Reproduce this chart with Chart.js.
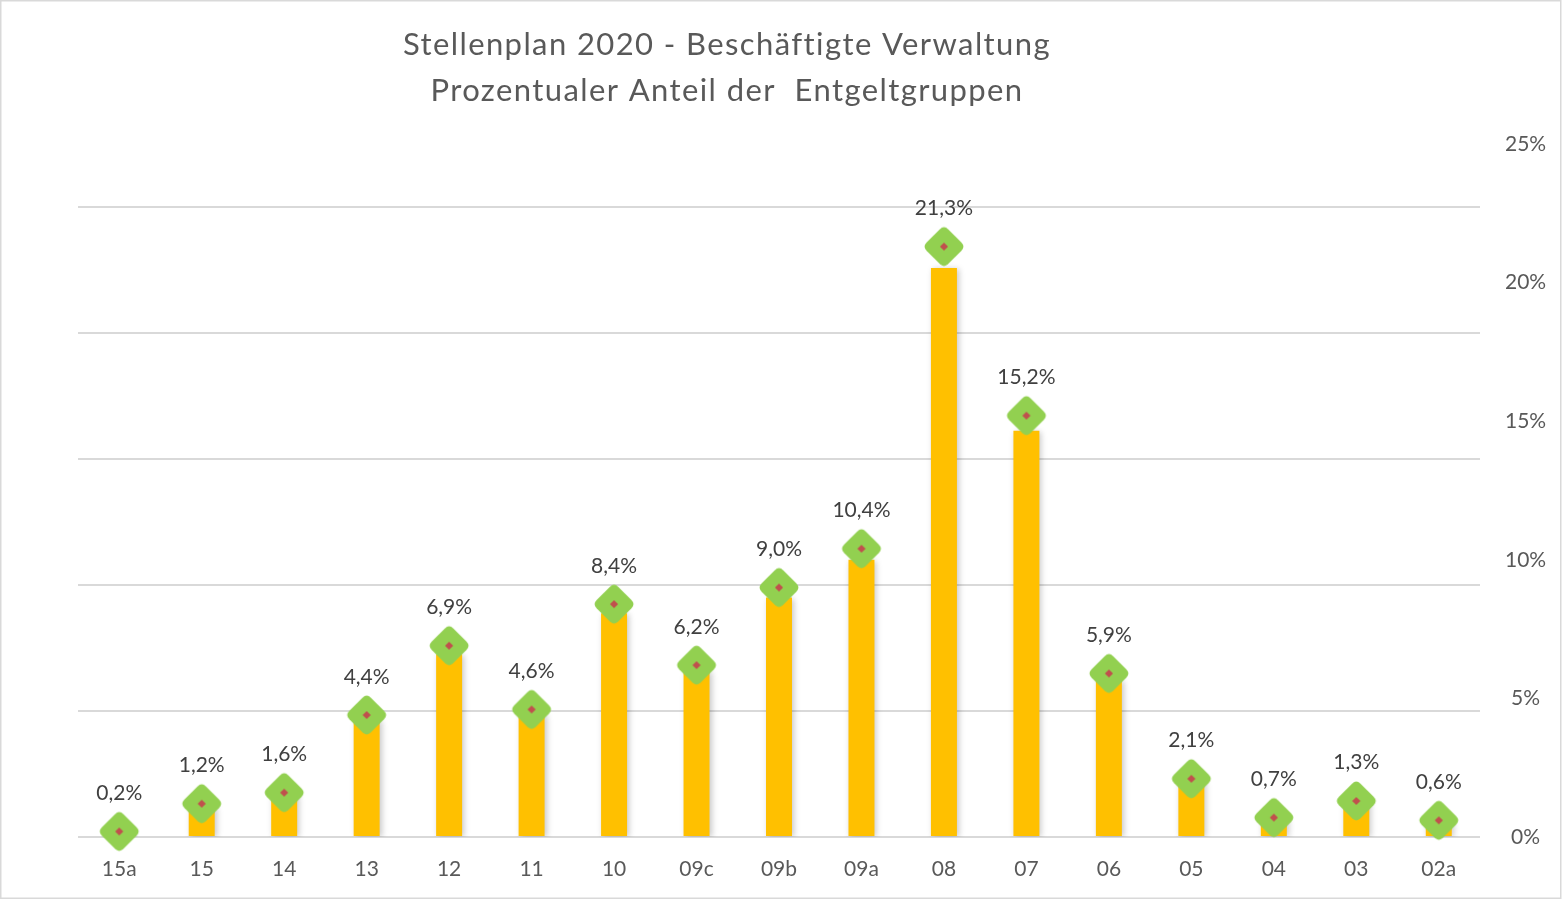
<!DOCTYPE html>
<html>
<head>
<meta charset="utf-8">
<script src="https://cdn.jsdelivr.net/npm/chart.js@4.4.1/dist/chart.umd.min.js"></script>
<style>
html,body{margin:0;padding:0;background:#ffffff;}
#wrap{width:1562px;height:902px;position:relative;}
canvas{display:block;}
</style>
</head>
<body>
<div id="wrap"><canvas id="c" width="1562" height="902"></canvas></div>
<script>
// ---- data ----
const categories = ['15a','15','14','13','12','11','10','09c','09b','09a','08','07','06','05','04','03','02a'];
// number of positions per pay group (hidden left axis)
const positions = [1, 5, 6.8, 18.5, 29, 19.5, 35.5, 26.3, 38, 44, 90.3, 64.5, 25, 9, 3, 5.5, 2.5];
// share in percent (right axis, markers and labels)
const shares = [0.2, 1.2, 1.6, 4.4, 6.9, 4.6, 8.4, 6.2, 9.0, 10.4, 21.3, 15.2, 5.9, 2.1, 0.7, 1.3, 0.6];
const shareTicks = [0, 5, 10, 15, 20, 25];
const titleLines = ['Stellenplan 2020 - Beschäftigte Verwaltung', 'Prozentualer Anteil der  Entgeltgruppen'];

const FONT = 'Lato';
const GREY = '#595959';

function makeMarker(){
  const c = document.createElement('canvas');
  c.width = 46; c.height = 46;
  const x = c.getContext('2d');
  x.translate(23, 23);
  x.rotate(Math.PI / 4);
  const s = 30.5, r = 6, h = s / 2;
  x.beginPath();
  x.moveTo(-h + r, -h);
  x.lineTo(h - r, -h); x.quadraticCurveTo(h, -h, h, -h + r);
  x.lineTo(h, h - r); x.quadraticCurveTo(h, h, h - r, h);
  x.lineTo(-h + r, h); x.quadraticCurveTo(-h, h, -h, h - r);
  x.lineTo(-h, -h + r); x.quadraticCurveTo(-h, -h, -h + r, -h);
  x.closePath();
  x.fillStyle = '#92D050';
  x.fill();
  x.fillStyle = '#C0504D';
  x.fillRect(-2.9, -2.9, 5.8, 5.8);
  return c;
}
const marker = makeMarker();

const framePlugin = {
  id: 'frame',
  beforeDraw(chart){
    const ctx = chart.ctx;
    ctx.save();
    ctx.fillStyle = '#ffffff';
    ctx.fillRect(0, 0, chart.width, chart.height);
    ctx.strokeStyle = '#D9D9D9';
    ctx.lineWidth = 1.5;
    ctx.strokeRect(0.75, 0.75, 1560, 897.5);
    ctx.restore();
  },
  afterDraw(chart){
    const ctx = chart.ctx;
    ctx.save();
    ctx.fillStyle = GREY;
    ctx.font = '31px ' + FONT;
    if ('letterSpacing' in ctx) ctx.letterSpacing = '1.4px';
    ctx.textAlign = 'center';
    ctx.textBaseline = 'alphabetic';
    ctx.fillText(titleLines[0], 727, 55);
    ctx.fillText(titleLines[1], 727, 101);
    ctx.restore();
  }
};

const shadowPlugin = {
  id: 'barShadow',
  beforeDatasetDraw(chart, args){
    if (chart.data.datasets[args.index].type !== 'bar') return;
    const ctx = chart.ctx;
    ctx.save();
    ctx.shadowColor = 'rgba(0,0,0,0.22)';
    ctx.shadowBlur = 6;
    ctx.shadowOffsetX = 2;
    ctx.shadowOffsetY = 1;
  },
  afterDatasetDraw(chart, args){
    if (chart.data.datasets[args.index].type !== 'bar') return;
    chart.ctx.restore();
  }
};

const labelPlugin = {
  id: 'valueLabels',
  afterDatasetsDraw(chart){
    const meta = chart.getDatasetMeta(1);
    const ds = chart.data.datasets[1];
    const ctx = chart.ctx;
    ctx.save();
    ctx.fillStyle = '#404040';
    ctx.font = '21px ' + FONT;
    ctx.textAlign = 'center';
    ctx.textBaseline = 'alphabetic';
    meta.data.forEach((pt, i) => {
      const txt = ds.data[i].toFixed(1).replace('.', ',') + '%';
      ctx.fillText(txt, pt.x, pt.y - 31.5);
    });
    ctx.restore();
  }
};

new Chart(document.getElementById('c'), {
  data: {
    labels: categories,
    datasets: [
      {
        type: 'bar',
        label: 'Stellen',
        data: positions,
        yAxisID: 'y',
        backgroundColor: '#FFC000',
        borderWidth: 0,
        categoryPercentage: 0.315,
        barPercentage: 1,
        order: 2
      },
      {
        type: 'line',
        label: 'Anteil',
        data: shares,
        yAxisID: 'y1',
        showLine: false,
        clip: false,
        pointStyle: marker,
        pointRadius: 20,
        pointHoverRadius: 20,
        order: 1
      }
    ]
  },
  options: {
    responsive: false,
    devicePixelRatio: 1,
    animation: false,
    events: [],
    layout: { padding: { top: 144, left: 0, right: 0, bottom: 0 } },
    plugins: {
      legend: { display: false },
      title: { display: false },
      tooltip: { enabled: false }
    },
    scales: {
      x: {
        grid: { display: false, drawTicks: false },
        border: { display: false },
        ticks: {
          color: GREY,
          font: { family: FONT, size: 21 },
          padding: 20,
          maxRotation: 0,
          autoSkip: false
        },
        afterFit(scale){ scale.height = 65; }
      },
      y: {
        position: 'left',
        min: 0,
        max: 110,
        ticks: { display: false, stepSize: 20 },
        grid: {
          drawTicks: false,
          lineWidth: 2,
          color: (c) => (c.tick && c.tick.value > 100) ? 'rgba(0,0,0,0)' : '#D9D9D9'
        },
        border: { display: false },
        afterFit(scale){ scale.width = 78; }
      },
      y1: {
        position: 'right',
        min: shareTicks[0],
        max: shareTicks[shareTicks.length - 1],
        afterBuildTicks(scale){ scale.ticks = shareTicks.map(v => ({ value: v })); },
        ticks: {
          color: GREY,
          font: { family: FONT, size: 21 },
          crossAlign: 'center',
          padding: 25,
          callback: (v) => v + '%'
        },
        grid: { display: false, drawTicks: false },
        border: { display: false },
        afterFit(scale){ scale.width = 82; }
      }
    }
  },
  plugins: [framePlugin, shadowPlugin, labelPlugin]
});
</script>
</body>
</html>
